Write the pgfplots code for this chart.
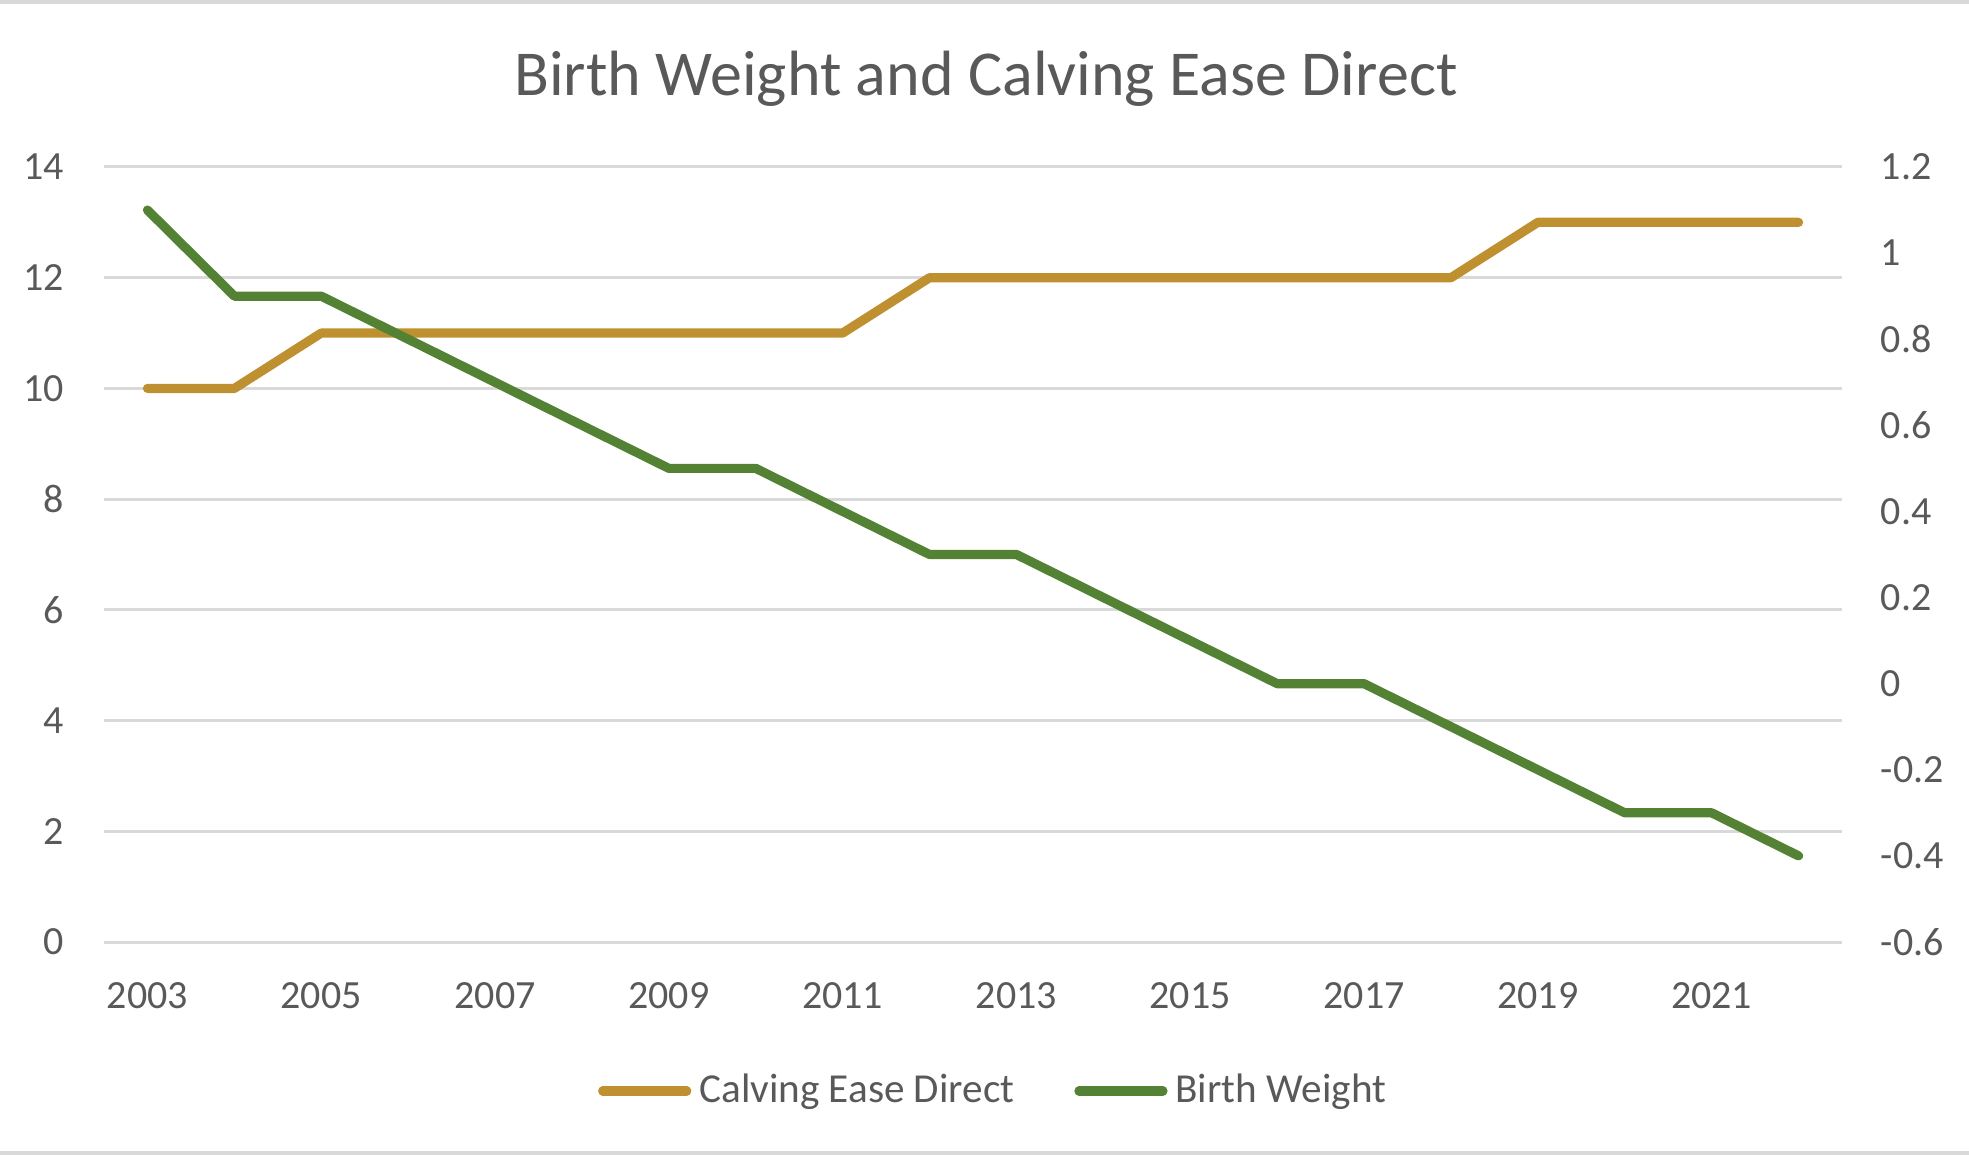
\documentclass[border=0pt]{standalone}
\usepackage{fontspec}
\setmainfont{Carlito}
\usepackage{pgfplots}
\pgfplotsset{compat=1.18}
\definecolor{cedgold}{RGB}{191,144,48}
\definecolor{bwgreen}{RGB}{84,130,53}
\definecolor{txtgray}{RGB}{89,89,89}
\definecolor{gridgray}{RGB}{217,217,217}

\pgfplotsset{
  common/.style={
    width=434.5pt, height=193.75pt, scale only axis,
    xmin=2002.5, xmax=2022.5,
    xtick={2003,2005,...,2021},
    axis line style={draw=none},
    major tick style={draw=none},
    /pgf/number format/assume math mode=true,
    ticklabel style={font=\fontsize{10}{12}\selectfont, text=txtgray},
    every axis plot/.append style={line width=2.3pt, line cap=round, line join=round},
  }
}

\begin{document}
\begin{tikzpicture}
\path[use as bounding box] (-26pt,-53.25pt) rectangle (466.25pt,235.5pt);
% chart border (top and bottom edges are visible)
\draw[gridgray, line width=1pt] (-26pt,235pt) -- (466.25pt,235pt);
\draw[gridgray, line width=1pt] (-26pt,-52.75pt) -- (466.25pt,-52.75pt);

\begin{axis}[common,
  ymin=0, ymax=14, ytick={0,2,...,14},
  ymajorgrids, major grid style={gridgray, line width=0.75pt},
  xticklabel style={/pgf/number format/1000 sep={}, anchor=center, yshift=-13.5pt, inner sep=0pt},
  yticklabel style={anchor=east, inner sep=0pt, xshift=-9.75pt},
  title={Birth Weight and Calving Ease Direct},
  title style={at={(0.5075,1)}, anchor=center, yshift=16pt, font=\fontsize{16}{19}\selectfont, text=txtgray},
  legend columns=2,
  legend style={draw=none, fill=none, at={(0.511,0)}, anchor=center, xshift=1pt, yshift=-37.25pt,
    font=\fontsize{10.3}{12}\selectfont, text=txtgray,
    /tikz/every even column/.append style={column sep=13pt}},
  legend image code/.code={\draw[#1, line width=2.3pt, line cap=round] (0pt,0pt) -- (21pt,0pt);},
]
\addplot[cedgold] coordinates {
  (2003,10) (2004,10) (2005,11) (2006,11) (2007,11) (2008,11) (2009,11)
  (2010,11) (2011,11) (2012,12) (2013,12) (2014,12) (2015,12) (2016,12)
  (2017,12) (2018,12) (2019,13) (2020,13) (2021,13) (2022,13)
};
\addlegendentry{Calving Ease Direct}
\addlegendimage{bwgreen}
\addlegendentry{Birth Weight}
\end{axis}

\begin{axis}[common,
  ymin=-0.6, ymax=1.2, ytick={-0.6,-0.4,-0.2,0,0.2,0.4,0.6,0.8,1,1.2},
  xticklabels={},
  yticklabel style={anchor=west, inner sep=0pt, xshift=9.5pt,
    /pgf/number format/fixed, /pgf/number format/precision=1},
  yticklabel pos=right,
]
\addplot[bwgreen] coordinates {
  (2003,1.1) (2004,0.9) (2005,0.9) (2006,0.8) (2007,0.7) (2008,0.6) (2009,0.5)
  (2010,0.5) (2011,0.4) (2012,0.3) (2013,0.3) (2014,0.2) (2015,0.1) (2016,0)
  (2017,0) (2018,-0.1) (2019,-0.2) (2020,-0.3) (2021,-0.3) (2022,-0.4)
};
\end{axis}
\end{tikzpicture}
\end{document}
